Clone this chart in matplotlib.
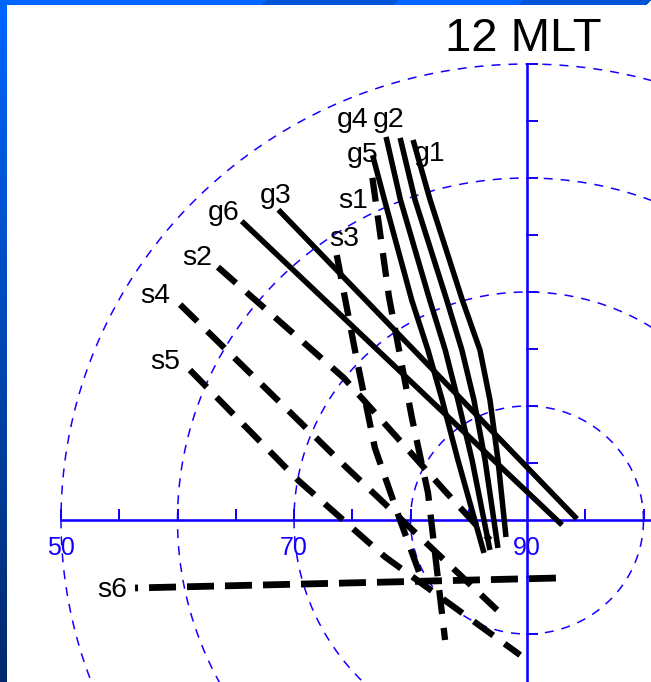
import numpy as np
import matplotlib
matplotlib.use("Agg")
import matplotlib.pyplot as plt

plt.rcParams['lines.scale_dashes'] = False

# ---------------------------------------------------------------
# Track points: magnetic latitude (deg) and magnetic local time (h)
# g* : solid tracks, s* : dashed tracks
# ---------------------------------------------------------------
g1_lat = [55.26, 60.72, 69.91, 74.55, 79.00, 84.18, 87.66]
g1_mlt = [13.09, 13.10, 13.07, 13.01, 13.12, 13.69, 20.64]
g2_lat = [54.76, 60.33, 69.52, 74.08, 78.53, 83.62, 86.50]
g2_mlt = [13.20, 13.26, 13.31, 13.37, 13.56, 14.29, 20.97]
g3_lat = [55.42, 85.71]
g3_mlt = [14.54, 6.08]
g4_lat = [54.29, 59.89, 68.98, 73.51, 77.92, 82.93, 85.87]
g4_mlt = [13.32, 13.41, 13.56, 13.68, 13.96, 14.79, 20.64]
g5_lat = [55.36, 59.40, 68.32, 72.84, 77.19, 82.08, 85.31]
g5_mlt = [13.50, 13.57, 13.81, 13.98, 14.31, 15.23, 20.54]
g6_lat = [54.13, 86.96]
g6_mlt = [14.87, 5.45]

s1_lat = [57.18, 67.13, 76.68, 81.18, 77.34]
s1_mlt = [13.59, 14.08, 15.19, 16.96, 21.75]
s2_lat = [55.42, 69.95, 82.41, 86.37]
s2_mlt = [15.34, 15.44, 16.65, 19.93]
s3_lat = [61.60, 69.39, 75.50, 79.10, 79.56]
s3_mlt = [14.34, 15.03, 16.28, 18.00, 20.02]
s4_lat = [54.74, 73.78, 81.70]
s4_mlt = [15.84, 16.89, 22.80]
s5_lat = [58.22, 70.13, 77.39, 78.14]
s5_mlt = [16.37, 17.34, 18.99, 23.81]
s6_lat = [55.83, 84.18]
s6_mlt = [18.67, 1.94]

grid_lats = [50, 60, 70, 80]
axis_labels = ['50', '70', '90']
axis_label_lats = [50, 70, 90]

solid_tracks = [(g1_lat, g1_mlt), (g2_lat, g2_mlt), (g3_lat, g3_mlt),
                (g4_lat, g4_mlt), (g5_lat, g5_mlt), (g6_lat, g6_mlt)]
dashed_tracks = [(s1_lat, s1_mlt), (s2_lat, s2_mlt), (s3_lat, s3_mlt),
                 (s4_lat, s4_mlt), (s5_lat, s5_mlt)]

# ---------------------------------------------------------------
# Layout
# ---------------------------------------------------------------
W, H = 651, 682
CX, CY = 527.0, 520.0          # pole position (px)
SX, SY = 11.65, 11.4           # px per degree of colatitude
BLUE = '#1400ff'
PX = 0.72                      # points per pixel at 100 dpi


def to_xy(lat, mlt):
    r = 90.0 - np.asarray(lat, dtype=float)
    phi = np.deg2rad((np.asarray(mlt, dtype=float) - 12.0) * 15.0)
    return -r * np.sin(phi), r * np.cos(phi)


fig = plt.figure(figsize=(W / 100, H / 100), dpi=100)

# slide frame: blue strips along the top and left edges
bg = fig.add_axes([0, 0, 1, 1], zorder=0)
img = np.ones((H, W, 3))
yy = np.arange(H)[:, None] / (H - 1)
left = np.array([0.0, 0.40, 1.0]) * (1 - yy) + np.array([0.0, 0.16, 0.42]) * yy
img[:, :7, :] = left[:, None, :] * np.ones((1, 7, 1))
for row in range(5):
    for x0, x1, col in [(0, 266, (0.0, 0.40, 1.0)), (266, 398, (0.0, 0.33, 0.85)),
                        (398, 523, (0.0, 0.40, 1.0)), (523, W, (0.0, 0.33, 0.85))]:
        a = max(0, x0 - row)
        b = min(W, x1 - row)
        img[row, a:b, :] = col
bg.imshow(img, aspect='auto', interpolation='nearest', extent=(0, W, H, 0))
bg.set_xlim(0, W)
bg.set_ylim(H, 0)
bg.axis('off')

ax = fig.add_axes([0, 0, 1, 1], zorder=1)
ax.patch.set_visible(False)
ax.set_xlim(-CX / SX, (W - CX) / SX)
ax.set_ylim((CY - H) / SY, CY / SY)
ax.axis('off')

# latitude circles
theta = np.linspace(0, 2 * np.pi, 1441)
for lat in grid_lats:
    r = 90 - lat
    ax.plot(r * np.cos(theta), r * np.sin(theta), color=BLUE, lw=1.1,
            linestyle=(0, (9 * PX, 8 * PX)), dash_capstyle='butt', zorder=2)

# noon-midnight and dawn-dusk axes
ax.plot([-40, 12], [0, 0], color=BLUE, lw=2.6 * PX, solid_capstyle='butt', zorder=3)
ax.plot([0, 0], [40, -16], color=BLUE, lw=2.6 * PX, solid_capstyle='butt', zorder=3)

# 5-degree ticks
tick_h = 10 / SY
tick_w = 10 / SX
for c in np.arange(5, 45, 5):
    ax.plot([-c, -c], [0, tick_h], color=BLUE, lw=2 * PX, zorder=3)
for c in (5, 10):
    ax.plot([c, c], [0, tick_h], color=BLUE, lw=2 * PX, zorder=3)
for c in np.arange(5, 45, 5):
    ax.plot([0, tick_w], [c, c], color=BLUE, lw=2 * PX, zorder=3)
for c in (5, 10):
    ax.plot([0, tick_w], [-c, -c], color=BLUE, lw=2 * PX, zorder=3)

# latitude labels along the dusk axis
for txt, lat in zip(axis_labels, axis_label_lats):
    x, y = to_xy(lat, 18)
    ax.text(x, y - 35 / SY, txt, ha='center', va='baseline', color=BLUE,
            fontsize=18, family='Liberation Sans', zorder=4)

# tracks
for lat, mlt in solid_tracks:
    x, y = to_xy(lat, mlt)
    ax.plot(x, y, color='black', lw=5.5 * PX, solid_capstyle='butt',
            solid_joinstyle='round', zorder=5)
for lat, mlt in dashed_tracks:
    x, y = to_xy(lat, mlt)
    ax.plot(x, y, color='black', lw=6.3 * PX,
            linestyle=(0, (24 * PX, 14 * PX)), dash_capstyle='butt', zorder=5)
x, y = to_xy(s6_lat, s6_mlt)
ax.plot(x, y, color='black', lw=6.8 * PX,
        linestyle=(24 * PX, (27 * PX, 11 * PX)), dash_capstyle='butt', zorder=5)

# track names
names = ['g4', 'g2', 'g5', 'g1', 's1', 's3', 'g6', 'g3', 's2', 's4', 's5', 's6']
name_px = [(337, 127), (373, 127), (347, 162), (414, 161), (338, 208), (329, 246),
           (208, 220), (260, 203), (182, 265), (140, 303), (150, 369), (97, 597)]
for n, (px, py) in zip(names, name_px):
    fig.text(px / W, 1 - py / H, n, ha='left', va='baseline', fontsize=20.5,
             family='Liberation Sans', color='black', zorder=6)

fig.text(523.5 / W, 1 - 51 / H, '12 MLT', ha='center', va='baseline', fontsize=34,
         family='Liberation Sans', color='black', zorder=6)

fig.savefig('out.png', dpi=100)
